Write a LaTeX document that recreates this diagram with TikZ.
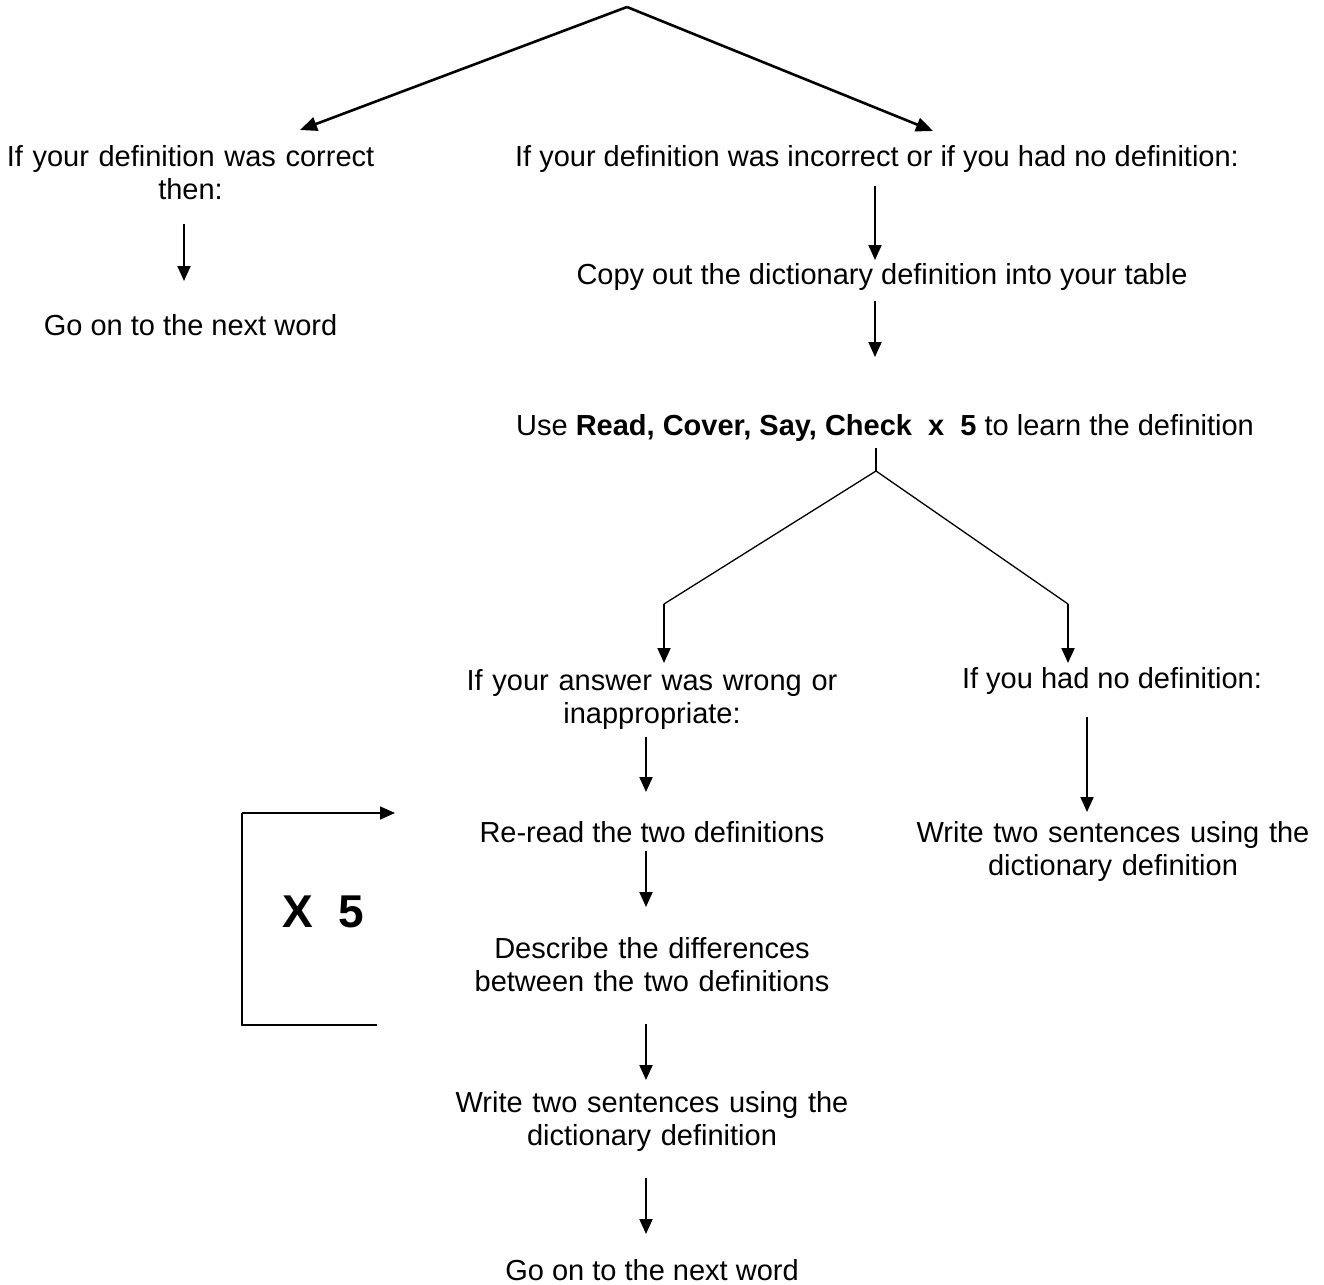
\documentclass[tikz,border=0pt]{standalone}
\usepackage{fontspec}
\setmainfont{Liberation Sans}
\usetikzlibrary{arrows.meta}
\tikzset{
  lbl/.style={inner sep=0pt, outer sep=0pt, align=center, font=\fontsize{29}{33}\selectfont, anchor=base},
  lbltwo/.style={lbl, text width=440pt},
  arr/.style={-{Triangle[length=15pt,width=13pt]}, line width=2pt},
  diag/.style={-{Triangle[length=17pt,width=14pt]}, line width=2.6pt},
  thin/.style={line width=1.3pt},
  loopline/.style={line width=1.6pt}
}
\begin{document}
\begin{tikzpicture}[x=1pt,y=-1pt]
\useasboundingbox[fill=white] (0,0) rectangle (1324,1284);

% top split
\coordinate (top) at (627,7);
\coordinate (lt) at (300,130);
\coordinate (rt) at (933,131);
\draw[diag] (top) -- (lt);
\draw[diag] (top) -- (rt);

% left branch
\node[lbltwo] (corr) at (190.5,167) {If your definition was correct\\then:};
\node[lbl] (next1) at (190.5,335) {Go on to the next word};
\coordinate (a1s) at (184,224);
\coordinate (a1e) at (184,281);
\draw[arr] (a1s) -- (a1e);

% right branch
\node[lbl] (incorr) at (877,167) {If your definition was incorrect or if you had no definition:};
\node[lbl] (copy) at (882,284) {Copy out the dictionary definition into your table};
\node[lbl] (use) at (885,435) {Use \textbf{Read, Cover, Say, Check\ \ x\ \ 5} to learn the definition};
\coordinate (a2s) at (875,186);
\coordinate (a2e) at (875,260);
\coordinate (a3s) at (875,301);
\coordinate (a3e) at (875,357);
\draw[arr] (a2s) -- (a2e);
\draw[arr] (a3s) -- (a3e);

% second split
\coordinate (tick) at (876,448);
\coordinate (apex) at (876,471);
\coordinate (bl) at (664,604);
\coordinate (br) at (1068,604);
\coordinate (blt) at (664,663);
\coordinate (brt) at (1068,663);
\draw[thin] (tick) -- (apex);
\draw[thin] (bl) -- (apex) -- (br);
\draw[arr] (bl) -- (blt);
\draw[arr] (br) -- (brt);

% right sub-branch
\node[lbl] (nodef) at (1112,688) {If you had no definition:};
\node[lbltwo] (write2) at (1113,842) {Write two sentences using the\\dictionary definition};
\coordinate (a4s) at (1087,717);
\coordinate (a4e) at (1087,812);
\draw[arr] (a4s) -- (a4e);

% left sub-branch
\node[lbltwo] (wrong) at (652,690) {If your answer was wrong or\\inappropriate:};
\node[lbl] (reread) at (652,842) {Re-read the two definitions};
\node[lbltwo] (descr) at (652,958) {Describe the differences\\between the two definitions};
\node[lbltwo] (write1) at (652,1112) {Write two sentences using the\\dictionary definition};
\node[lbl] (next2) at (652,1280) {Go on to the next word};
\coordinate (a5s) at (646,737);
\coordinate (a5e) at (646,792);
\coordinate (a6s) at (646,851);
\coordinate (a6e) at (646,907);
\coordinate (a7s) at (646,1024);
\coordinate (a7e) at (646,1080);
\coordinate (a8s) at (646,1178);
\coordinate (a8e) at (646,1234);
\draw[arr] (a5s) -- (a5e);
\draw[arr] (a6s) -- (a6e);
\draw[arr] (a7s) -- (a7e);
\draw[arr] (a8s) -- (a8e);

% repeat loop
\coordinate (lpA) at (242,1025);
\coordinate (lpB) at (377,1025);
\coordinate (lpC) at (242,813);
\coordinate (lpD) at (395,813);
\draw[loopline] (lpB) -- (lpA) -- (lpC);
\draw[loopline, -{Triangle[length=15pt,width=13pt]}] (lpC) -- (lpD);
\node[inner sep=0pt, anchor=base, font=\fontsize{46}{50}\selectfont\bfseries] (x5) at (323,927) {X\ \ 5};
\end{tikzpicture}
\end{document}
